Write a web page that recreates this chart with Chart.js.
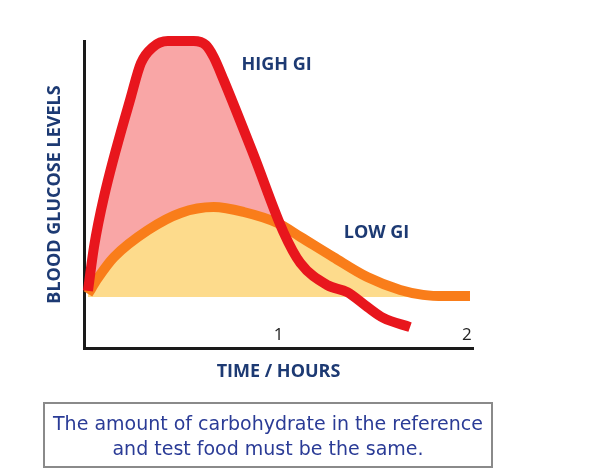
<!DOCTYPE html>
<html>
<head>
<meta charset="utf-8">
<script src="https://cdn.jsdelivr.net/npm/chart.js@4.4.1/dist/chart.umd.min.js"></script>
<style>
    body { margin: 0; background: #ffffff; }
    #wrap { position: relative; width: 600px; height: 476px; }
    #note {
        position: absolute;
        left: 43px;
        top: 402px;
        width: 446px;
        height: 62px;
        border: 2px solid #8a8a8a;
        font-family: 'DejaVu Sans', sans-serif;
        font-size: 19px;
        line-height: 25px;
        color: #2a3b96;
        text-align: center;
    }
    #note div:first-child { margin-top: 7px; }
</style>
</head>
<body>
<div id="wrap">
    <canvas id="giChart" width="600" height="476"></canvas>
    <div id="note">
        <div>The amount of carbohydrate in the reference</div>
        <div>and test food must be the same.</div>
    </div>
</div>
<script>
// Dados (x em horas, y em nível relativo de glicose)
const xTicks = [1, 2];
const seriesNames = ['HIGH GI', 'LOW GI'];
const baseline = 16.6;

const highGiX = [-0.011, 0.021, 0.074, 0.217, 0.270, 0.333, 0.413, 0.550, 0.614, 0.656, 0.709, 0.868, 1.026, 1.116, 1.259, 1.365, 1.471, 1.556, 1.698];
const highGiY = [18.6, 32.9, 49.2, 81.8, 92.8, 98.0, 100, 100, 98.7, 94.8, 87.3, 62.9, 37.8, 27.7, 20.5, 18.2, 13.4, 9.8, 6.8];

const lowGiX = [-0.011, 0.042, 0.127, 0.307, 0.481, 0.656, 0.815, 0.995, 1.116, 1.291, 1.471, 1.646, 1.767, 1.884, 2.016];
const lowGiY = [17.6, 22.8, 29.6, 38.4, 44.0, 45.9, 44.3, 40.7, 36.2, 29.6, 23.1, 18.9, 17.3, 16.9, 16.9];

const navy = '#1d3a73';

function toPoints(xs, ys) {
    return xs.map((x, i) => ({ x: x, y: ys[i] }));
}

// Rótulos das curvas e números do eixo X (dentro da área do gráfico)
const curveLabels = {
    id: 'curveLabels',
    afterDatasetsDraw(chart) {
        const ctx = chart.ctx;
        const xs = chart.scales.x;
        const ys = chart.scales.y;
        const anchors = [[0.99, 92.2], [1.52, 37.5]];
        ctx.save();
        ctx.textAlign = 'center';
        ctx.textBaseline = 'middle';
        ctx.font = "bold 18px 'Open Sans', sans-serif";
        ctx.fillStyle = navy;
        seriesNames.forEach((name, i) => {
            ctx.fillText(name, xs.getPixelForValue(anchors[i][0]), ys.getPixelForValue(anchors[i][1]));
        });
        ctx.font = "17px 'Open Sans', sans-serif";
        ctx.fillStyle = '#222222';
        xTicks.forEach(t => {
            ctx.fillText(String(t), xs.getPixelForValue(t), chart.chartArea.bottom - 13);
        });
        ctx.restore();
    }
};

const lineCommon = {
    pointRadius: 0,
    cubicInterpolationMode: 'monotone',
    clip: false
};

new Chart(document.getElementById('giChart').getContext('2d'), {
    type: 'line',
    data: {
        datasets: [
            Object.assign({
                label: seriesNames[0],
                data: toPoints(highGiX, highGiY),
                borderColor: '#e8161d',
                borderWidth: 10,
                fill: false,
                order: 0
            }, lineCommon),
            Object.assign({
                label: seriesNames[1],
                data: toPoints(lowGiX, lowGiY),
                borderColor: '#f97d1a',
                borderWidth: 10,
                fill: false,
                order: 1
            }, lineCommon),
            Object.assign({
                label: seriesNames[1] + ' area',
                data: toPoints(lowGiX, lowGiY),
                borderWidth: 0,
                borderColor: 'rgba(0,0,0,0)',
                fill: { value: baseline, above: '#fddb8c', below: 'rgba(0,0,0,0)' },
                order: 2
            }, lineCommon),
            Object.assign({
                label: seriesNames[0] + ' area',
                data: toPoints(highGiX, highGiY),
                borderWidth: 0,
                borderColor: 'rgba(0,0,0,0)',
                fill: { value: baseline, above: '#f9a6a6', below: 'rgba(0,0,0,0)' },
                order: 3
            }, lineCommon)
        ]
    },
    options: {
        responsive: false,
        animation: false,
        layout: {
            padding: { top: 41, right: 127, left: 0, bottom: 0 }
        },
        plugins: {
            legend: { display: false },
            tooltip: { enabled: false }
        },
        scales: {
            x: {
                type: 'linear',
                min: -0.032,
                max: 2.032,
                afterFit: function(scale) { scale.height = 128; },
                grid: { display: false, drawTicks: false },
                border: { display: true, color: '#1a1a1a', width: 3 },
                ticks: { display: false },
                title: {
                    display: true,
                    text: 'TIME / HOURS',
                    color: navy,
                    font: { family: "'Open Sans', sans-serif", size: 18, weight: 'bold' },
                    padding: { top: 0, bottom: 93 }
                }
            },
            y: {
                min: 0,
                max: 100,
                afterFit: function(scale) { scale.width = 84; },
                grid: { display: false, drawTicks: false },
                border: { display: true, color: '#1a1a1a', width: 3 },
                ticks: { display: false },
                title: {
                    display: true,
                    text: 'BLOOD GLUCOSE LEVELS',
                    color: navy,
                    font: { family: "'Open Sans', sans-serif", size: 18, weight: 'bold' },
                    padding: { top: 44, bottom: 0 }
                }
            }
        }
    },
    plugins: [curveLabels]
});
</script>
</body>
</html>
